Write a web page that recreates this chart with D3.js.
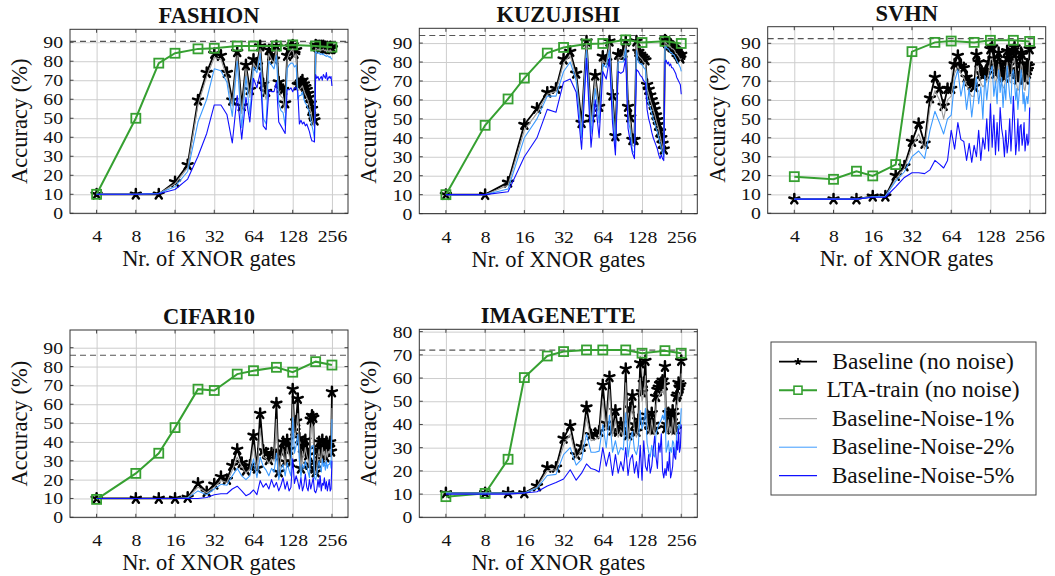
<!DOCTYPE html>
<html>
<head>
<meta charset="utf-8">
<script src="https://cdn.jsdelivr.net/npm/d3@7"></script>
<style>
  body { margin: 0; background: #fff; }
  svg { display: block; }
  svg text { font-family: "Liberation Serif", "Times New Roman", "DejaVu Serif", serif !important; fill: #111; }
</style>
</head>
<body>
<svg id="chart" width="1055" height="576"></svg>
<script>
// Gate counts at which the baseline and its noisy variants were evaluated
const gates = [
  4, 8, 12, 16, 20, 24, 28, 32,
  36, 40, 44, 48, 52, 56, 60, 64,
  68, 72, 76, 80, 84, 88, 92, 96,
  100, 104, 108, 112, 116, 120, 124, 128,
  132, 136, 140, 144, 148, 152, 156, 160,
  164, 168, 172, 176, 180, 184, 188, 192,
  196, 200, 204, 208, 212, 216, 220, 224,
  228, 232, 236, 240, 244, 248, 252, 256
];
// Gate counts for the LTA-trained networks
const ltaGates = [4, 8, 12, 16, 24, 32, 48, 64, 96, 128, 192, 256];

const xTicks = [4, 8, 16, 32, 64, 128, 256];
const yTicks90 = [0, 10, 20, 30, 40, 50, 60, 70, 80, 90];
const yTicks80 = [0, 10, 20, 30, 40, 50, 60, 70, 80];

const datasetNames = ["FASHION", "KUZUJISHI", "SVHN", "CIFAR10", "IMAGENETTE"];
const seriesNames = ["Baseline (no noise)", "LTA-train (no noise)", "Baseline-Noise-1%", "Baseline-Noise-2%", "Baseline-Noise-5%"];

// ---- FASHION ----
const fashionBase = [
  10, 10, 10, 16.5, 25.5, 59.5, 74, 84,
  83, 74, 59.5, 85, 56.5, 78, 65, 81,
  78, 88, 68, 64, 86, 83, 81, 88,
  69, 66, 65, 58, 83, 86, 87.5, 88.5,
  84, 86, 67.5, 68, 69, 70, 68, 66.5,
  65, 63, 61, 58, 55, 51, 49, 88.5,
  88, 87.5, 88, 87, 88, 87.5, 88, 87,
  87.5, 86.5, 87.5, 87, 86.5, 87.5, 86.5, 87
];
const fashionNoise1 = [
  10, 10, 10.3, 15.5, 24, 57, 72, 82,
  81, 71.5, 56.5, 83, 52.5, 76, 61, 79,
  76, 86.5, 64, 60, 84, 81, 79, 86.5,
  64.5, 61.5, 60.5, 53, 81, 84, 85.5, 86.5,
  82, 84, 64.5, 65, 66, 67, 64.5, 62.5,
  61, 59, 56.5, 53.5, 50.5, 47, 45.5, 87,
  86.5, 86, 86.5, 85.5, 86, 86, 86.5, 85.5,
  86, 85, 86, 85.5, 85, 86, 85, 85.5
];
const fashionNoise2 = [
  10, 10, 10.5, 14, 22, 48, 60, 76,
  75, 69, 51, 80, 45, 72, 52, 77,
  74, 84, 50, 47, 80, 78, 76, 83,
  58, 54, 53, 46, 76, 78, 79, 79,
  77, 78, 60, 62, 62, 64, 60, 58,
  57, 55, 53, 49, 46, 43, 39, 85,
  84.5, 84, 84.5, 83.5, 84, 83.5, 84, 83,
  83, 82.5, 83, 82.5, 82, 82.5, 81.5, 81
];
const fashionNoise5 = [
  10, 10, 10.3, 12.5, 18, 30, 42, 57,
  57, 52, 37, 62, 39, 61, 48, 71,
  66, 74, 46, 44, 65, 64, 64, 69,
  48, 46, 44, 42, 65, 65, 66, 64,
  66, 66, 64, 47, 49, 47, 48, 46,
  47, 45, 43, 40, 38, 38, 37.5, 73,
  71, 72, 70, 71, 72, 70, 73, 72,
  71, 74, 70, 71, 72, 71, 72, 67
];
const fashionLta = [10, 50, 79, 84.2, 86.5, 86.8, 88, 88, 88, 88.6, 88, 87.4];
const fashionRef = 90.5;

// ---- KUZUJISHI ----
const kuzuBase = [
  10, 10, 16.5, 47, 55.5, 64, 66, 81.5,
  85.5, 74, 48, 91, 51, 73, 56.5, 83,
  80.5, 91, 62.5, 41, 84, 83.5, 85, 91,
  56.5, 51, 39, 39, 91, 85.5, 84, 83,
  82, 81, 68, 65.5, 62.5, 60, 57.5, 55,
  52, 49.5, 47, 43.5, 40, 37, 34, 91.5,
  91, 90, 90, 89, 89, 88, 88, 87.5,
  87, 85.5, 85.5, 84.5, 84, 83, 82, 84
];
const kuzuNoise1 = [
  10, 10, 15, 44, 53, 63, 64.5, 79.5,
  83.5, 72, 44, 89.5, 47, 71, 53, 81,
  79, 89.5, 59, 37.5, 82.5, 82, 83.5, 89.5,
  53.5, 48, 36, 35.5, 89.5, 83.5, 82.5, 81.5,
  80, 79.5, 66, 63, 60, 57.5, 55, 52.5,
  49.5, 47, 44.5, 41, 38, 35, 32, 90.5,
  90, 89, 89, 88, 88, 87, 87, 86.5,
  86, 84.5, 84.5, 83.5, 83, 82, 81, 82
];
const kuzuNoise2 = [
  10, 10, 13, 40, 50, 62, 62, 75,
  80, 70, 40, 86, 42, 66, 48, 79,
  77, 86, 56, 35, 80, 80, 80, 87,
  50, 44, 33, 32, 86, 80, 79, 79,
  77, 76, 62, 58, 56, 53, 50, 48,
  45, 43, 40, 37, 34, 32, 30, 88,
  88, 87, 87, 86, 85, 85, 84, 84,
  83, 82, 81, 80, 79, 78, 77, 75
];
const kuzuNoise5 = [
  10, 10, 11.5, 30, 40, 55, 53.5, 69.5,
  71, 64, 34, 82, 35, 60, 40, 75,
  71, 82, 48, 31, 75, 74, 75, 82,
  45, 38, 32, 29, 76, 75, 73, 72,
  70, 69, 55, 50, 47, 43, 40, 38,
  36, 34, 31, 29, 31, 29, 28, 80,
  81, 79, 80, 78, 79, 77, 77, 76,
  75, 74, 72, 71, 70, 69, 68, 63
];
const kuzuLta = [10, 46.6, 60.5, 71.5, 84.7, 87.7, 89.5, 89.8, 91.7, 90.3, 90.9, 89.8];
const kuzuRef = 94;

// ---- SVHN ----
const svhnBase = [
  7.5, 7.5, 7.5, 9, 9, 20, 25, 38,
  47.5, 37, 61, 72, 66, 57, 66, 66,
  79, 83.5, 78, 77, 72, 70, 68, 67,
  84, 80, 74, 73, 74, 76, 80, 87,
  88, 82, 74, 78, 85, 79, 75, 73,
  72, 80, 86, 82, 76, 75, 85, 86.5,
  88, 81, 74, 71, 72, 79, 85, 84,
  77, 72, 71, 75, 79, 76, 78, 87
];
const svhnNoise1 = [
  7.5, 7.5, 7.5, 8.8, 9, 18, 24, 35,
  42, 34, 56, 65, 60, 50, 60, 62,
  74, 78, 74, 72, 68, 64, 62, 62,
  78, 75, 69, 67, 68, 70, 74, 81,
  82, 77, 68, 72, 79, 73, 69, 67,
  66, 74, 80, 76, 70, 69, 79, 80,
  82, 75, 68, 65, 66, 73, 79, 78,
  71, 66, 65, 69, 73, 70, 72, 81
];
const svhnNoise2 = [
  7.5, 7.5, 7.5, 8.8, 9, 17, 22, 30,
  33, 29, 44, 54, 48, 42, 50, 52,
  70, 76, 62, 70, 55, 66, 51, 62,
  72, 58, 67, 50, 73, 60, 70, 75,
  78, 62, 70, 58, 76, 64, 72, 56,
  68, 60, 78, 70, 62, 58, 74, 76,
  70, 60, 66, 55, 62, 68, 76, 70,
  58, 64, 54, 60, 62, 58, 64, 72
];
const svhnNoise5 = [
  7.5, 7.5, 7.5, 8.5, 8.5, 14, 19, 21.5,
  21.5, 21, 23, 28, 26, 24, 28, 44,
  34, 48, 39, 38, 28, 37, 27, 36,
  30, 44, 28, 40, 34, 50, 33, 58,
  35, 52, 31, 48, 33, 56, 45, 40,
  30, 44, 32, 38, 50, 33, 45, 62,
  48, 31, 38, 50, 33, 46, 47, 36,
  40, 48, 33, 38, 42, 36, 38, 56
];
const svhnLta = [19.4, 18, 22.3, 19.8, 25.8, 85.6, 90.5, 91.2, 90.5, 91.6, 91.6, 91];
const svhnRef = 92.5;

// ---- CIFAR10 ----
const cifarBase = [
  10, 10, 10, 10, 10.5, 18, 13.5, 17.5,
  21.5, 20, 27.5, 36, 29, 25, 27.5, 43.5,
  26, 55, 35.5, 34, 30.5, 34, 33, 60.5,
  24, 35, 40, 29.5, 41, 36, 29.5, 68,
  46, 51, 63, 42, 26, 38, 34, 41,
  36, 33, 28, 52, 54, 53, 26, 24,
  29, 36, 40, 35, 31, 41, 36, 38,
  32, 40, 35, 38, 37, 40, 35, 66.5
];
const cifarNoise1 = [
  10, 10, 10, 10, 10.3, 16, 13, 16,
  19.5, 18.5, 25, 32, 27, 23.5, 25.5, 38,
  25, 47, 32, 31, 28.5, 31, 30, 52,
  23, 32, 36, 27.5, 37, 33, 27.5, 60,
  42, 46, 55, 38, 25, 35, 31.5, 37,
  33, 30.5, 26.5, 47, 49, 48, 25, 23,
  27, 33, 36, 32, 29, 37, 33, 35,
  30, 36, 32, 35, 34, 36, 32, 58
];
const cifarNoise2 = [
  10, 10, 10, 10, 10.2, 14, 12, 15,
  17.5, 17, 22, 26, 22, 20, 22, 31,
  21, 32, 27, 25, 22, 26, 24, 34,
  20, 26, 28, 22, 29, 25, 22, 53,
  34, 38, 44, 30, 21, 28, 26, 30,
  27, 24, 21, 36, 38, 38, 21, 20,
  23, 27, 30, 26, 24, 31, 27, 29,
  25, 30, 26, 28, 28, 30, 26, 52
];
const cifarNoise5 = [
  10, 10, 10, 10, 10, 10, 10.5, 12,
  12.5, 12.5, 15, 16.5, 14, 11.5, 12.5, 14.5,
  12, 19.5, 16, 18, 15, 20, 16, 18.5,
  14, 17, 21, 15, 19, 14, 16, 31,
  18, 22, 19, 15, 21, 14, 17, 23,
  16, 14, 20, 15, 18, 21, 14, 13,
  15, 20, 16, 22, 14, 18, 17, 21,
  15, 19, 14, 17, 20, 14, 15, 30
];
const cifarLta = [9.5, 23.3, 34, 47.6, 68, 67.3, 76, 77.8, 79.6, 77, 82.6, 80.8];
const cifarRef = 86;

// ---- IMAGENETTE ----
const imgBase = [
  10.5, 10.5, 10.5, 10.5, 13.5, 21.5, 21.5, 34,
  39.5, 27, 30.5, 47.5, 35.5, 36, 37, 57,
  40.5, 60.5, 37.5, 46, 37, 40.5, 38, 64,
  35.5, 47, 52.5, 40, 37, 42, 66.5, 54,
  58, 67.5, 44, 40, 38, 45, 40, 38,
  52, 55, 56, 57.5, 58, 59, 57, 65,
  38.5, 40, 45, 39, 42, 38, 46, 44,
  40, 38, 52, 53, 58, 56, 57, 67.5
];
const imgNoise1 = [
  10.5, 10.5, 10.5, 10.5, 13, 20, 20.5, 31,
  36, 25.5, 28.5, 43, 33, 33.5, 34.5, 51,
  37.5, 55, 35, 42, 34.5, 37.5, 35.5, 58,
  33, 43, 48, 37, 34.5, 39, 60, 50,
  53, 61, 41, 37.5, 35.5, 42, 37.5, 35.5,
  48, 51, 52, 53, 54, 54.5, 53, 60,
  36, 37.5, 42, 36.5, 39, 35.5, 43, 41,
  37.5, 35.5, 48, 49, 53.5, 52, 53, 62
];
const imgNoise2 = [
  10.5, 10.5, 10.5, 10.5, 12.5, 18, 18.5, 27,
  30, 22.5, 25, 36, 28, 28, 28.5, 40,
  30, 44, 28, 33, 27, 30, 29, 45,
  26, 33, 37, 29, 27, 31, 46, 38,
  41, 47, 32, 28, 26, 31, 27, 26,
  36, 38, 40, 41, 42, 44, 42, 47,
  28, 30, 33, 27, 30, 28, 33, 32,
  28, 27, 36, 37, 40, 38, 40, 47
];
const imgNoise5 = [
  10, 10, 10, 10.5, 11, 13.5, 15, 16.5,
  20.5, 16, 19, 23, 21, 20.5, 19.5, 30,
  22, 28, 18, 27, 19, 24, 20, 30,
  18, 25, 27, 19, 24, 17, 31, 16,
  33, 22, 20, 27, 19, 22, 29, 35,
  26, 21, 32, 28, 36, 20, 17, 21,
  18, 24, 20, 28, 17, 19, 22, 30,
  26, 25, 33, 29, 38, 28, 30, 40
];
const imgLta = [8.9, 10.3, 25, 60.2, 69.5, 71.4, 72.1, 72.1, 72.1, 70.7, 71.8, 70.7];
const imgRef = 72;

// ---- styling ----
const FONT = '"Liberation Serif", "Times New Roman", "DejaVu Serif", serif';
const COLORS = { base: "#000000", lta: "#36a031", n1: "#9a9a9a", n2: "#3d9bff", n5: "#1010ff" };
const FONT_TICK = 17, TICK_STRETCH = 1.16, FONT_LABEL = 22.5, FONT_TITLE = 22.5, FONT_LEGEND = 23.5;

const panels = [
  { name: datasetNames[0], base: fashionBase, n1: fashionNoise1, n2: fashionNoise2, n5: fashionNoise5, lta: fashionLta, ref: fashionRef, ymax: 96.8, yTicks: yTicks90, left: 70, top: 29.3, bottom: 213.3 },
  { name: datasetNames[1], base: kuzuBase, n1: kuzuNoise1, n2: kuzuNoise2, n5: kuzuNoise5, lta: kuzuLta, ref: kuzuRef, ymax: 97.8, yTicks: yTicks90, left: 419.3, top: 28.3, bottom: 213.6 },
  { name: datasetNames[2], base: svhnBase, n1: svhnNoise1, n2: svhnNoise2, n5: svhnNoise5, lta: svhnLta, ref: svhnRef, ymax: 98.8, yTicks: yTicks90, left: 767.7, top: 26.7, bottom: 213.3 },
  { name: datasetNames[3], base: cifarBase, n1: cifarNoise1, n2: cifarNoise2, n5: cifarNoise5, lta: cifarLta, ref: cifarRef, ymax: 99.4, yTicks: yTicks90, left: 70, top: 330, bottom: 517.3 },
  { name: datasetNames[4], base: imgBase, n1: imgNoise1, n2: imgNoise2, n5: imgNoise5, lta: imgLta, ref: imgRef, ymax: 81, yTicks: yTicks80, left: 419.3, top: 329.3, bottom: 517.3 }
];
const plotW = 278;

const svg = d3.select("#chart").attr("font-family", FONT);

// five-spoke star mark
function starPath(r) {
  let p = "";
  for (let k = 0; k < 5; k++) {
    const a = -Math.PI / 2 + k * 2 * Math.PI / 5;
    p += `M0,0L${(r * Math.cos(a)).toFixed(2)},${(r * Math.sin(a)).toFixed(2)}`;
  }
  return p;
}
const STAR = starPath(5.2);

function drawPanel(p) {
  const x = d3.scaleLog().base(2).domain([2.5, 340]).range([p.left, p.left + plotW]);
  const y = d3.scaleLinear().domain([0, p.ymax]).range([p.bottom, p.top]);
  const h = p.bottom - p.top;
  const g = svg.append("g");

  // grid + tick labels via axes
  const ax = g.append("g").attr("transform", `translate(0,${p.bottom})`)
    .call(d3.axisBottom(x).tickValues(xTicks).tickFormat(d => String(d)).tickSize(-h).tickPadding(17));
  const ay = g.append("g").attr("transform", `translate(${p.left},0)`)
    .call(d3.axisLeft(y).tickValues(p.yTicks).tickFormat(d => String(d)).tickSize(-plotW).tickPadding(6));
  [ax, ay].forEach(a => {
    a.attr("font-family", FONT).attr("font-size", FONT_TICK);
    a.select(".domain").remove();
    a.selectAll(".tick line").attr("stroke", "#cdcdcd").attr("stroke-width", 1);
    a.selectAll(".tick text").style("font-size", FONT_TICK + "px")
      .style("font-family", FONT).attr("fill", "#111")
      .attr("transform", `scale(${TICK_STRETCH},1)`);
  });

  // short inward tick marks on all four sides
  const tk = g.append("g").attr("stroke", "#444").attr("stroke-width", 1);
  xTicks.forEach(t => {
    tk.append("line").attr("x1", x(t)).attr("x2", x(t)).attr("y1", p.bottom).attr("y2", p.bottom - 3.5);
    tk.append("line").attr("x1", x(t)).attr("x2", x(t)).attr("y1", p.top).attr("y2", p.top + 3.5);
  });
  p.yTicks.forEach(t => {
    tk.append("line").attr("x1", p.left).attr("x2", p.left + 3.5).attr("y1", y(t)).attr("y2", y(t));
    tk.append("line").attr("x1", p.left + plotW).attr("x2", p.left + plotW - 3.5).attr("y1", y(t)).attr("y2", y(t));
  });

  // reference accuracy (dashed)
  g.append("line").attr("x1", p.left).attr("x2", p.left + plotW)
    .attr("y1", y(p.ref)).attr("y2", y(p.ref))
    .attr("stroke", "#555").attr("stroke-width", 1.2).attr("stroke-dasharray", "6,4");

  const line = d3.line().x(d => x(d[0])).y(d => y(d[1]));
  const pts = vals => gates.map((gt, i) => [gt, vals[i]]);

  // baseline (no noise)
  g.append("path").datum(pts(p.base)).attr("d", line)
    .attr("fill", "none").attr("stroke", COLORS.base).attr("stroke-width", 1.8).attr("stroke-linejoin", "round");
  g.append("g").selectAll("path").data(pts(p.base)).join("path")
    .attr("transform", d => `translate(${x(d[0])},${y(d[1])})`)
    .attr("d", STAR).attr("fill", "none").attr("stroke", COLORS.base).attr("stroke-width", 2.5).attr("stroke-linecap", "round");

  // LTA-train
  const ltaPts = ltaGates.map((gt, i) => [gt, p.lta[i]]);
  g.append("path").datum(ltaPts).attr("d", line)
    .attr("fill", "none").attr("stroke", COLORS.lta).attr("stroke-width", 2);
  g.append("g").selectAll("rect").data(ltaPts).join("rect")
    .attr("x", d => x(d[0]) - 4.5).attr("y", d => y(d[1]) - 4.5)
    .attr("width", 9).attr("height", 9)
    .attr("fill", "none").attr("stroke", COLORS.lta).attr("stroke-width", 1.8);

  // noisy baselines
  [["n1", COLORS.n1], ["n2", COLORS.n2], ["n5", COLORS.n5]].forEach(([k, c]) => {
    g.append("path").datum(pts(p[k])).attr("d", line)
      .attr("fill", "none").attr("stroke", c).attr("stroke-width", 1.1).attr("stroke-linejoin", "round");
  });

  // frame
  g.append("rect").attr("x", p.left).attr("y", p.top).attr("width", plotW).attr("height", h)
    .attr("fill", "none").attr("stroke", "#333").attr("stroke-width", 1);

  // titles and axis labels
  g.append("text").attr("x", p.left + plotW / 2).attr("y", p.top - 6)
    .attr("text-anchor", "middle").style("font-family", FONT)
    .style("font-size", FONT_TITLE + "px").style("font-weight", "bold")
    .text(p.name);
  g.append("text").attr("x", p.left + plotW / 2).attr("y", p.bottom + 53)
    .attr("text-anchor", "middle").style("font-family", FONT).style("font-size", FONT_LABEL + "px")
    .text("Nr. of XNOR gates");
  g.append("text")
    .attr("transform", `translate(${p.left - 43},${(p.top + p.bottom) / 2}) rotate(-90)`)
    .attr("text-anchor", "middle").style("font-family", FONT).style("font-size", FONT_LABEL + "px")
    .text("Accuracy (%)");
}

panels.forEach(drawPanel);

// legend
const lg = svg.append("g");
lg.append("rect").attr("x", 771).attr("y", 342).attr("width", 265).attr("height", 153)
  .attr("fill", "#fff").attr("stroke", "#444").attr("stroke-width", 1);
const legendStyles = [
  { color: COLORS.base, width: 1.8, mark: "star" },
  { color: COLORS.lta, width: 2, mark: "square" },
  { color: COLORS.n1, width: 1, mark: null },
  { color: COLORS.n2, width: 1, mark: null },
  { color: COLORS.n5, width: 1.3, mark: null }
];
seriesNames.forEach((name, i) => {
  const cy = 361.7 + i * 28.5;
  const s = legendStyles[i];
  lg.append("line").attr("x1", 779).attr("x2", 817).attr("y1", cy).attr("y2", cy)
    .attr("stroke", s.color).attr("stroke-width", s.width);
  if (s.mark === "star") {
    lg.append("path").attr("transform", `translate(798,${cy})`).attr("d", starPath(3.6))
      .attr("fill", "none").attr("stroke", s.color).attr("stroke-width", 1.7);
  } else if (s.mark === "square") {
    lg.append("rect").attr("x", 794).attr("y", cy - 4).attr("width", 8).attr("height", 8)
      .attr("fill", "#fff").attr("stroke", s.color).attr("stroke-width", 1.6);
  }
  lg.append("text").attr("x", 923).attr("y", cy + 7).attr("text-anchor", "middle")
    .style("font-family", FONT).style("font-size", FONT_LEGEND + "px").text(name);
});
</script>
</body>
</html>
